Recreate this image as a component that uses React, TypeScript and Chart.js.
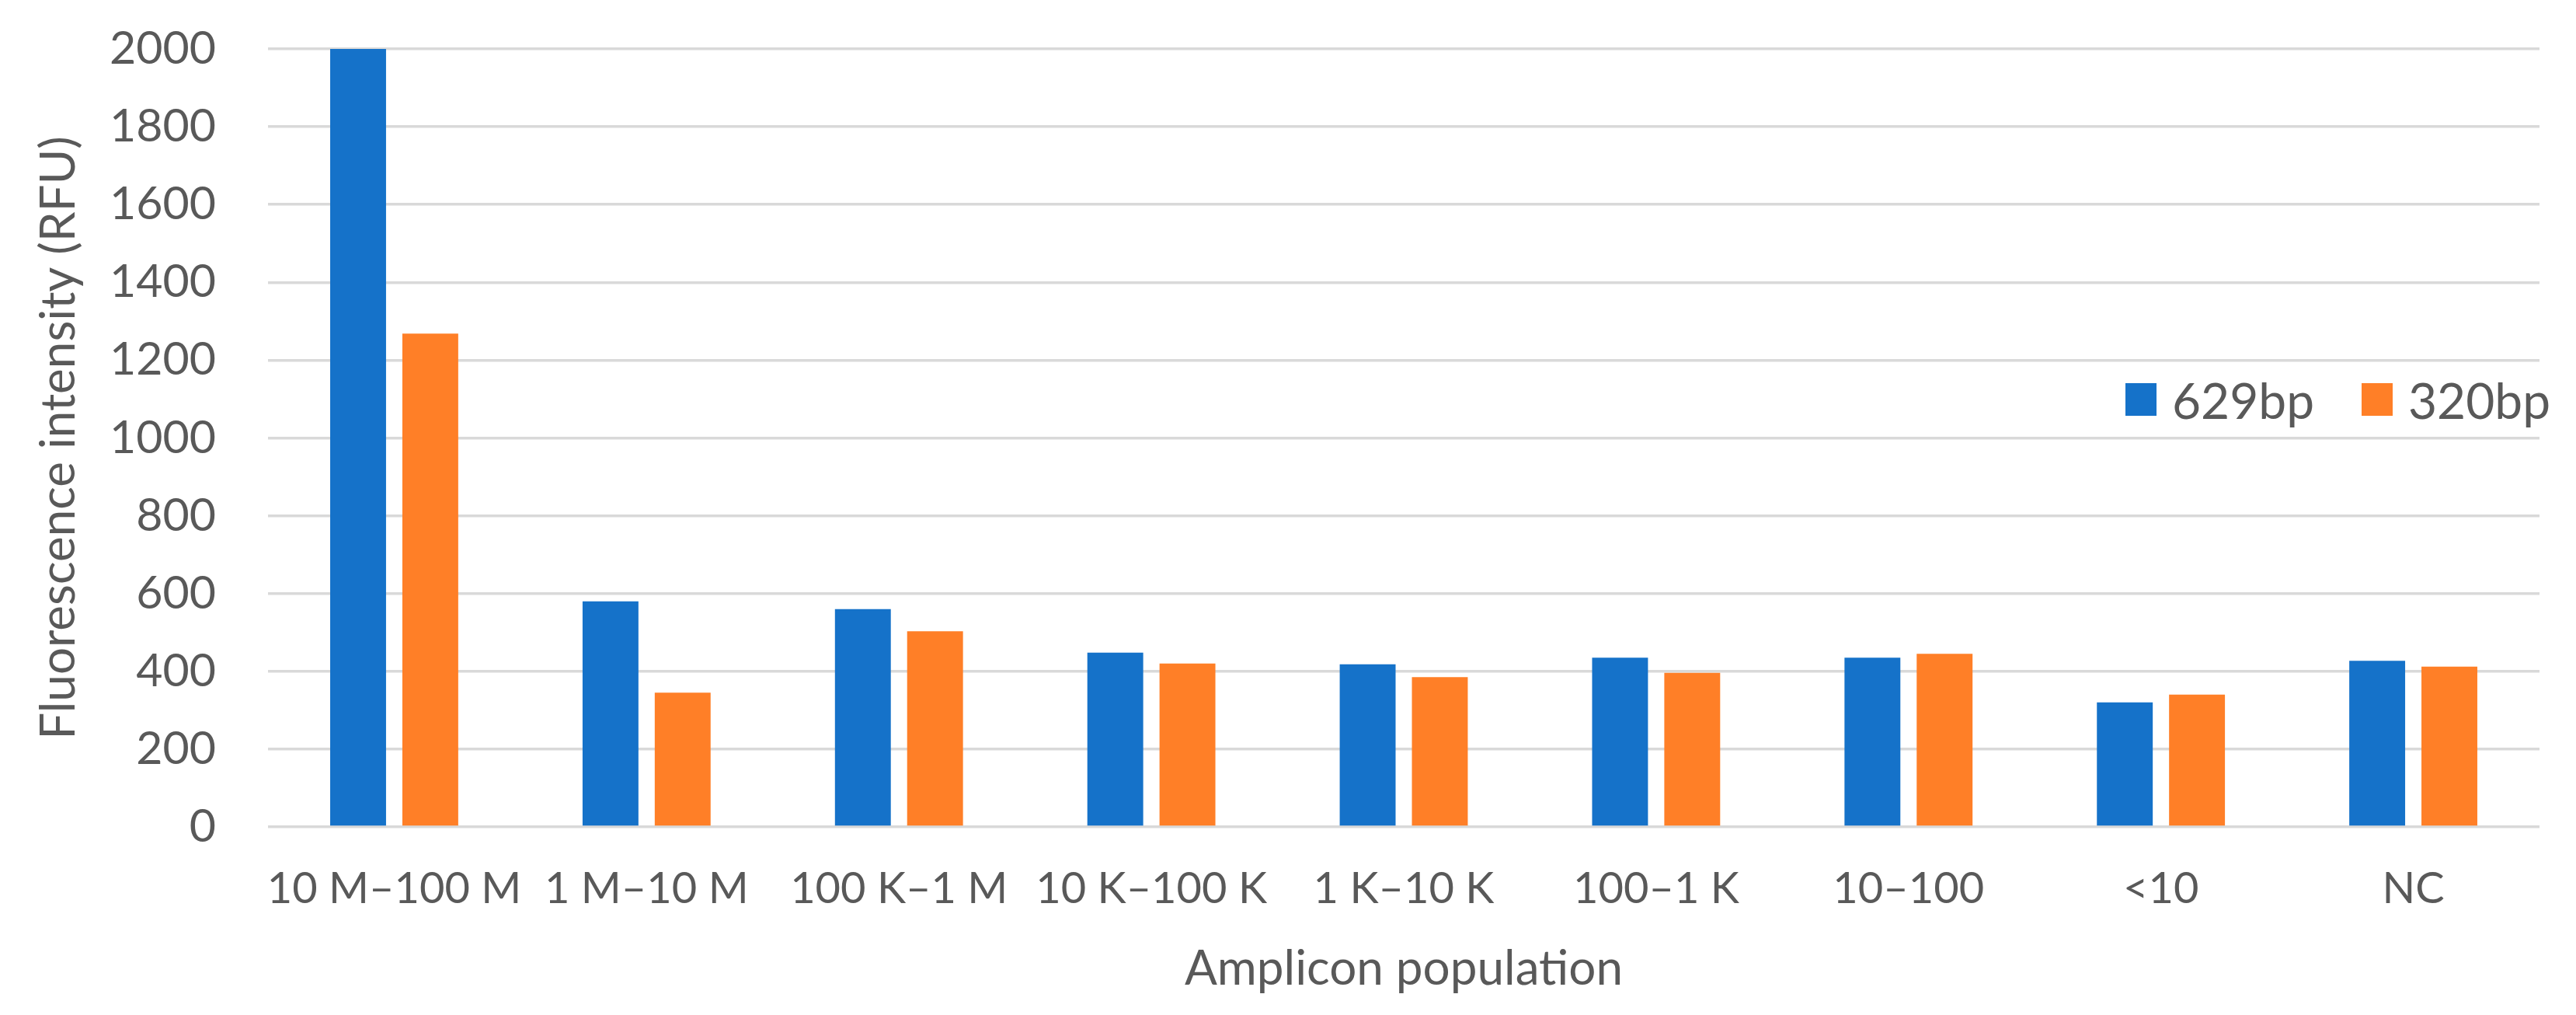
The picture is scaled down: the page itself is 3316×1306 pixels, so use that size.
import React, { useEffect, useRef } from "react";
import { Chart, registerables } from "chart.js";

Chart.register(...registerables);

const categories = ["10 M–100 M", "1 M–10 M", "100 K–1 M", "10 K–100 K", "1 K–10 K", "100–1 K", "10–100", "<10", "NC"];
const series629 = [2000, 580, 560, 448, 418, 435, 435, 320, 427];
const series320 = [1268, 345, 503, 420, 385, 396, 445, 340, 412];
const seriesLabels = ["629bp", "320bp"];
const seriesColors = ["#1572C9", "#FF7F27"];
const yTicks = [0, 200, 400, 600, 800, 1000, 1200, 1400, 1600, 1800, 2000];
const yTitle = "Fluorescence intensity (RFU)";
const xTitle = "Amplicon population";

const FONT = "Lato, 'Open Sans', sans-serif";
const TEXT = "#595959";

export default function App() {
  const canvasRef = useRef<HTMLCanvasElement | null>(null);

  useEffect(() => {
    if (!canvasRef.current) return;
    const chart = new Chart(canvasRef.current, {
      type: "bar",
      data: {
        labels: categories,
        datasets: [
          { label: seriesLabels[0], data: series629, backgroundColor: seriesColors[0], borderWidth: 0 },
          { label: seriesLabels[1], data: series320, backgroundColor: seriesColors[1], borderWidth: 0 },
        ],
      },
      options: {
        animation: false,
        responsive: true,
        maintainAspectRatio: false,
        devicePixelRatio: 1,
        datasets: { bar: { categoryPercentage: 0.572, barPercentage: 0.774 } },
        layout: { padding: { left: 0, right: 47, top: 63, bottom: 0 } },
        plugins: { legend: { display: false }, tooltip: { enabled: false } },
        scales: {
          x: {
            grid: { display: false, drawTicks: false, tickLength: 0 },
            border: { display: false },
            ticks: {
              color: TEXT,
              font: { family: FONT, size: 56, lineHeight: 1.2 },
              padding: 46,
              maxRotation: 0,
              autoSkip: false,
            },
            title: {
              display: true,
              text: xTitle,
              color: TEXT,
              font: { family: FONT, size: 62, lineHeight: 1.2 },
              padding: { top: 0, bottom: 22 },
            },
            afterFit: (scale: any) => {
              scale.height = 242;
              scale.paddingLeft = 0;
              scale.paddingRight = 0;
            },
          },
          y: {
            min: 0,
            max: 2000,
            afterBuildTicks: (scale: any) => {
              scale.ticks = yTicks.map((v) => ({ value: v }));
            },
            grid: { color: "#D9D9D9", lineWidth: 3.5, drawTicks: false, tickLength: 0 },
            border: { display: false },
            ticks: {
              color: TEXT,
              font: { family: FONT, size: 59, lineHeight: 1.2 },
              padding: 67,
              callback: (v: any) => String(v),
            },
            title: {
              display: true,
              text: yTitle,
              color: TEXT,
              font: { family: FONT, size: 62, lineHeight: 1.2 },
              padding: { top: 39, bottom: 0 },
            },
            afterFit: (scale: any) => {
              scale.width = 345;
              scale.paddingTop = 0;
              scale.paddingBottom = 0;
            },
          },
        },
      },
    });
    return () => chart.destroy();
  }, []);

  const legendItems = [
    { label: seriesLabels[0], color: seriesColors[0], left: 2736 },
    { label: seriesLabels[1], color: seriesColors[1], left: 3040 },
  ];

  return (
    <div style={{ position: "absolute", left: 0, top: 0, width: 3316, height: 1306, background: "#fff" }}>
      <canvas ref={canvasRef} />
      {legendItems.map((it) => (
        <div
          key={it.label}
          style={{
            position: "absolute",
            left: it.left,
            top: 474,
            height: 80,
            display: "flex",
            alignItems: "center",
            fontFamily: FONT,
            fontSize: 64,
            color: TEXT,
            whiteSpace: "nowrap",
          }}
        >
          <span style={{ display: "inline-block", width: 40, height: 42, background: it.color, marginRight: 20 }} />
          <span>{it.label}</span>
        </div>
      ))}
    </div>
  );
}
